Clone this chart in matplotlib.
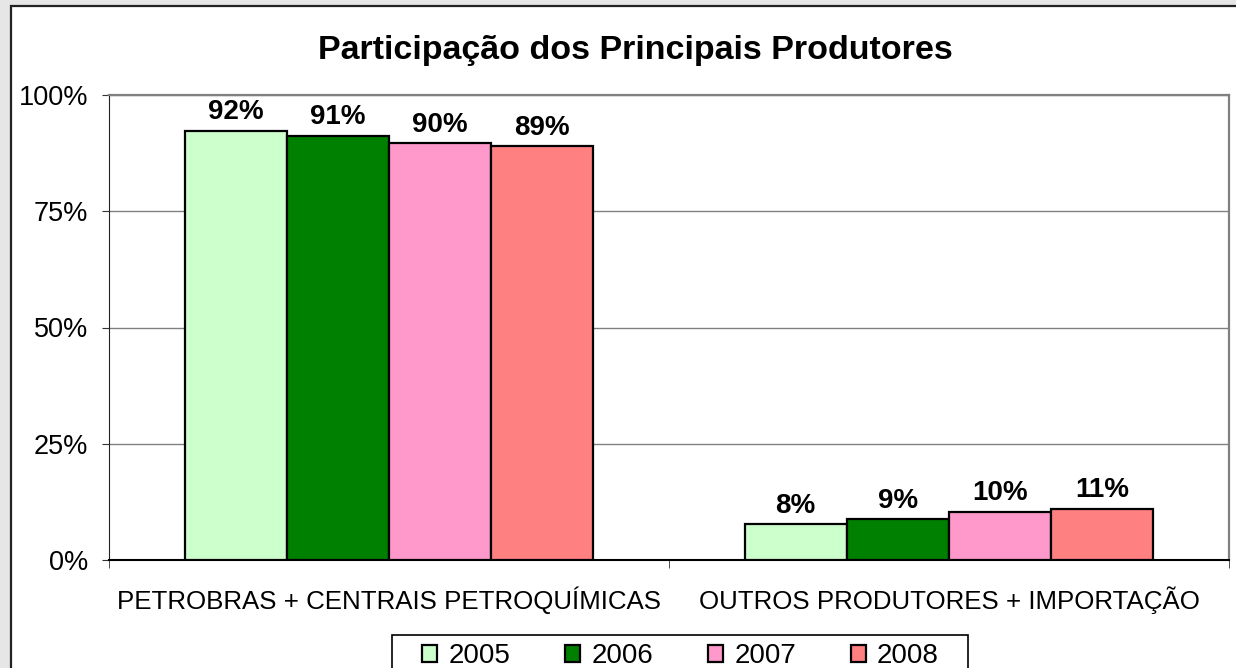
import matplotlib.pyplot as plt
from matplotlib.patches import Rectangle, Patch

categorias = ["PETROBRAS + CENTRAIS PETROQUÍMICAS", "OUTROS PRODUTORES + IMPORTAÇÃO"]
anos = ["2005", "2006", "2007", "2008"]
v2005 = [92.3, 7.7]
v2006 = [91.2, 8.8]
v2007 = [89.6, 10.4]
v2008 = [89.0, 11.0]
series = [v2005, v2006, v2007, v2008]
cores = ["#CCFFCC", "#008000", "#FF99CC", "#FF8080"]

plt.rcParams['font.family'] = ['Liberation Sans', 'DejaVu Sans']

fig = plt.figure(figsize=(12.36, 6.68), dpi=100)
fig.patch.set_facecolor("#e6e6e6")
# moldura branca do grafico
moldura = Rectangle((11 / 1236, -0.1), 1.1, 1.1 - 6 / 668, transform=fig.transFigure,
                    facecolor="white", edgecolor="#222222", linewidth=1.6, zorder=-10)
fig.add_artist(moldura)

ax = fig.add_axes([109 / 1236, 1 - 560 / 668, 1120 / 1236, 465 / 668])
ax.set_facecolor("white")

w = 0.73 / 4
for i in range(4):
    xs = [c + (i - 1.5) * w for c in range(len(categorias))]
    bars = ax.bar(xs, series[i], w, color=cores[i], edgecolor="black", linewidth=1.6, zorder=3)
    for b, v in zip(bars, series[i]):
        ax.annotate(f"{v:.0f}%", (b.get_x() + b.get_width() / 2, v), xytext=(0, 4),
                    textcoords="offset points", ha="center", va="bottom",
                    fontsize=20, fontweight="bold")

ax.set_xlim(-0.5, 1.5)
ax.set_ylim(0, 100)
ax.set_yticks([0, 25, 50, 75, 100])
ax.set_yticklabels([f"{t}%" for t in [0, 25, 50, 75, 100]], fontsize=19.5)
ax.set_xticks([0, 1])
ax.set_xticklabels(categorias, fontsize=18.6)
ax.set_xticks([-0.5, 0.5, 1.5], minor=True)
ax.tick_params(axis="x", which="major", length=0, pad=19)
ax.tick_params(axis="x", which="minor", length=6, direction="out", color="#333333")
ax.tick_params(axis="y", length=5, direction="out", color="#333333", pad=10)
ax.grid(axis="y", color="#808080", linewidth=1, zorder=0)
for s in ["top", "right"]:
    ax.spines[s].set_color("#808080")
    ax.spines[s].set_linewidth(1.6)
ax.spines["left"].set_color("#222222")
ax.spines["bottom"].set_color("black")
ax.spines["bottom"].set_linewidth(1.5)

fig.text(635 / 1236, 1 - 51 / 668, "Participação dos Principais Produtores",
         ha="center", va="center", fontsize=24.5, fontweight="bold")

# caixa da legenda
fig.add_artist(Rectangle((392 / 1236, -0.1), 576 / 1236, 0.1 + 1 - 635 / 668, transform=fig.transFigure,
                         facecolor="white", edgecolor="black", linewidth=1.2, zorder=5))
handles = [Patch(facecolor=c, edgecolor="black", linewidth=1.6) for c in cores]
leg = fig.legend(handles, anos, loc="center left", bbox_to_anchor=(422 / 1236, 1 - 656 / 668),
                 ncol=4, fontsize=20, frameon=False, borderpad=0,
                 handlelength=0.55, handleheight=0.55, handletextpad=0.4, columnspacing=1.97,
                 borderaxespad=0)
leg.set_zorder(6)

fig.savefig("out.png", dpi=100, facecolor=fig.get_facecolor())
